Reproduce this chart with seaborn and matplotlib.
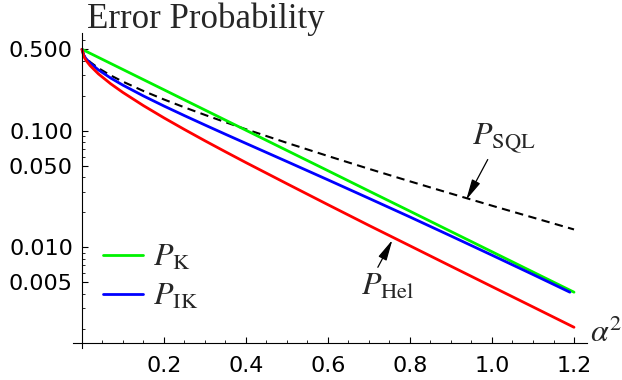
import matplotlib
matplotlib.use("Agg")
import matplotlib.pyplot as plt
from matplotlib.ticker import FixedLocator, FixedFormatter, NullFormatter
from matplotlib.lines import Line2D
import matplotlib.transforms as mtransforms
import seaborn as sns

# ---- data ----
alpha2 = [0, 0.005, 0.01, 0.02, 0.04, 0.07, 0.1, 0.15, 0.2, 0.25, 0.3, 0.35,
          0.4, 0.5, 0.6, 0.7, 0.8, 0.9, 1.0, 1.1, 1.2]
p_k = [0.5, 0.4901, 0.4804, 0.4616, 0.4261, 0.3779, 0.3352, 0.2744, 0.2247,
       0.1839, 0.1506, 0.1233, 0.1010, 0.0677, 0.0454, 0.0304, 0.0204,
       0.01366, 0.00916, 0.00614, 0.00412]
alpha2_ik = [0, 0.005, 0.01, 0.02, 0.04, 0.07, 0.1, 0.15, 0.2, 0.25, 0.3, 0.35,
             0.4, 0.5, 0.6, 0.7, 0.8, 0.9, 1.0, 1.1, 1.19]
p_ik = [0.5, 0.4395, 0.4148, 0.3803, 0.3330, 0.2833, 0.2460, 0.1988, 0.1630,
        0.1348, 0.1120, 0.0933, 0.0779, 0.0544, 0.0379, 0.0263, 0.0182,
        0.0125, 0.00856, 0.00584, 0.00412]
p_sql = [0.5, 0.4438, 0.4207, 0.3887, 0.3446, 0.2984, 0.2636, 0.2193, 0.1855,
         0.1587, 0.1367, 0.1184, 0.1030, 0.0787, 0.0607, 0.0471, 0.0368,
         0.0289, 0.02275, 0.0180, 0.01423]
p_hel = [0.5, 0.4296, 0.4010, 0.3614, 0.3077, 0.2529, 0.2129, 0.1642, 0.1290,
         0.1025, 0.0820, 0.0660, 0.0533, 0.0351, 0.0232, 0.0154, 0.0103,
         0.00688, 0.00460, 0.00308, 0.00206]

y_major = [0.005, 0.01, 0.05, 0.1, 0.5]
y_major_labels = ["0.005", "0.010", "0.050", "0.100", "0.500"]
y_minor = [0.002, 0.003, 0.004, 0.006, 0.007, 0.008, 0.009, 0.02, 0.03, 0.04,
           0.06, 0.07, 0.08, 0.09, 0.2, 0.3, 0.4, 0.6]
x_major = [0.2, 0.4, 0.6, 0.8, 1.0, 1.2]
x_major_labels = ["0.2", "0.4", "0.6", "0.8", "1.0", "1.2"]
x_minor = [0.05, 0.1, 0.15, 0.25, 0.3, 0.35, 0.45, 0.5, 0.55, 0.65, 0.7, 0.75,
           0.85, 0.9, 0.95, 1.05, 1.1, 1.15]

# ---- style ----
sns.set_style("ticks")
plt.rcParams["font.family"] = ["DejaVu Sans"]
plt.rcParams["mathtext.fontset"] = "stix"

W, H = 622, 380
fig = plt.figure(figsize=(W / 100, H / 100), dpi=100)
ax_l, ax_r, ax_t, ax_b = 73, 587, 33, 348
ax = fig.add_axes([ax_l / W, 1 - ax_b / H, (ax_r - ax_l) / W, (ax_b - ax_t) / H])

green, blue, red = (0, 0.95, 0), (0, 0, 1), (1, 0, 0)
sns.lineplot(x=alpha2, y=p_sql, color="black", lw=1.5, ax=ax,
             linestyle=(0, (4.0, 2.6)), estimator=None, sort=False)
sns.lineplot(x=alpha2, y=p_k, color=green, lw=2, ax=ax, estimator=None, sort=False)
sns.lineplot(x=alpha2_ik, y=p_ik, color=blue, lw=2, ax=ax, estimator=None, sort=False)
sns.lineplot(x=alpha2, y=p_hel, color=red, lw=2, ax=ax, estimator=None, sort=False)

ax.set_yscale("log")
ax.set_xlim(-0.0219, 1.2317)
ax.set_ylim(0.001368, 0.6898)

ax.spines["top"].set_visible(False)
ax.spines["right"].set_visible(False)
ax.spines["left"].set_position(("data", 0))
ax.spines["bottom"].set_position(("data", 0.001509))
for s in ("left", "bottom"):
    ax.spines[s].set_linewidth(0.8)
    ax.spines[s].set_color("black")

ax.yaxis.set_major_locator(FixedLocator(y_major))
ax.yaxis.set_major_formatter(FixedFormatter(y_major_labels))
ax.yaxis.set_minor_locator(FixedLocator(y_minor))
ax.yaxis.set_minor_formatter(NullFormatter())
ax.xaxis.set_major_locator(FixedLocator(x_major))
ax.xaxis.set_major_formatter(FixedFormatter(x_major_labels))
ax.xaxis.set_minor_locator(FixedLocator(x_minor))

ax.tick_params(which="major", direction="in", length=4.2, width=0.8,
               labelsize=16, colors="black")
ax.tick_params(which="minor", direction="in", length=2.4, width=0.7)
ax.tick_params(axis="y", which="major", pad=6.5)
ax.tick_params(axis="x", which="major", pad=9.5)
ax.set_xlabel("")
ax.set_ylabel("")

# title and axis label
fig.text(87 / W, 1 - 28 / H, "Error Probability", family="Liberation Serif",
         fontsize=25, ha="left", va="baseline")
fig.text(590 / W, 1 - 342 / H, r"$\alpha^2$", fontsize=23, ha="left", va="baseline")

# annotations
arrow = dict(arrowstyle="-|>,head_length=0.55,head_width=0.12", color="black",
             lw=0.9, shrinkA=0, shrinkB=0)
ax.annotate(r"$P_{\mathrm{SQL}}$", xy=(0.937, 0.0255), xytext=(1.028, 0.0849),
            fontsize=23, ha="center", va="center",
            arrowprops=dict(arrow, relpos=(0.28, 0.0)))
ax.annotate(r"$P_{\mathrm{Hel}}$", xy=(0.757, 0.01155), xytext=(0.746, 0.00465),
            fontsize=23, ha="center", va="center",
            arrowprops=dict(arrow, relpos=(0.28, 1.0)))

# legend
handles = [Line2D([], [], color=green, lw=2), Line2D([], [], color=blue, lw=2)]
leg = ax.legend(handles, [r"$P_{\mathrm{K}}$", r"$P_{\mathrm{IK}}$"],
                loc="center left", frameon=False, fontsize=23,
                borderpad=0, borderaxespad=0, handlelength=1.25,
                handletextpad=0.32, labelspacing=0.25)
leg.set_bbox_to_anchor((103, H - 277), transform=mtransforms.IdentityTransform())

fig.savefig("out.png", dpi=100)
